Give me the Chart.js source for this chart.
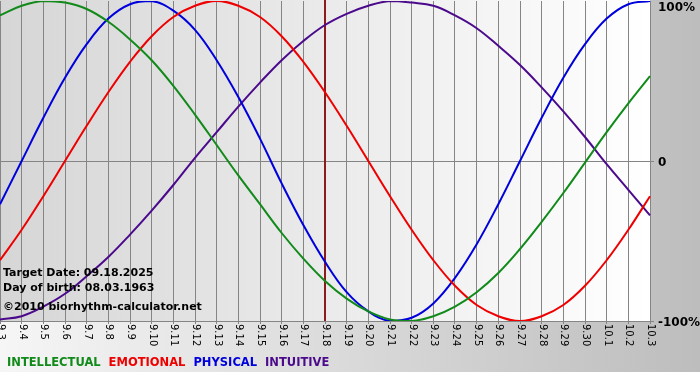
<!DOCTYPE html>
<html>
<head>
<meta charset="utf-8">
<script src="https://cdn.jsdelivr.net/npm/chart.js@4/dist/chart.umd.min.js"></script>
<style>
  html, body { margin: 0; padding: 0; background: #fff; }
  canvas { display: block; }
</style>
</head>
<body>
<canvas id="chart" width="700" height="380"></canvas>
<script>
// days shown on the x axis (month.day)
const days = ['9.3', '9.4', '9.5', '9.6', '9.7', '9.8', '9.9', '9.10', '9.11', '9.12',
  '9.13', '9.14', '9.15', '9.16', '9.17', '9.18', '9.19', '9.20', '9.21', '9.22',
  '9.23', '9.24', '9.25', '9.26', '9.27', '9.28', '9.29', '9.30', '10.1', '10.2', '10.3'];
const targetDay = '9.18';

// values in percent
const intellectual = [91, 97, 100, 99, 95, 87, 76, 63, 47, 29, 10, -9, -27, -45, -61, -75,
  -86, -94, -99, -100, -97, -91, -82, -70, -55, -38, -20, -1, 18, 36, 53];
const emotional = [-62, -43, -22, 0, 22, 43, 62, 78, 90, 97, 100, 97, 90, 78, 62, 43,
  22, 0, -22, -43, -62, -78, -90, -97, -100, -97, -90, -78, -62, -43, -22];
const physical = [-27, 0, 27, 52, 73, 89, 98, 100, 94, 82, 63, 40, 14, -14, -40, -63,
  -82, -94, -100, -98, -89, -73, -52, -27, 0, 27, 52, 73, 89, 98, 100];
const intuitive = [-99, -97, -91, -83, -72, -60, -46, -31, -15, 2, 18, 34, 49, 63, 75, 85,
  92, 97, 100, 99, 97, 91, 83, 72, 60, 46, 31, 15, -2, -18, -34];

const yTicks = [100, 0, -100];
const infoLines = ['Target Date: 09.18.2025', 'Day of birth: 08.03.1963', '\u00a92010 biorhythm-calculator.net'];

const colors = {
  intellectual: '#118a1a',
  emotional: '#ee0000',
  physical: '#0000dd',
  intuitive: '#4b0a8c',
};

const decor = {
  id: 'decor',
  beforeDraw(chart) {
    const { ctx, chartArea: a, width, height } = chart;
    ctx.save();
    ctx.fillStyle = '#fff';
    ctx.fillRect(0, 0, width, height);
    let g = ctx.createLinearGradient(0, 0, width, 0);
    g.addColorStop(0, '#f6f6f6');
    g.addColorStop(1, '#bdbdbd');
    ctx.fillStyle = g;
    ctx.fillRect(0, 0, width, 372);
    g = ctx.createLinearGradient(a.left, 0, a.right, 0);
    g.addColorStop(0, '#d6d6d6');
    g.addColorStop(1, '#ffffff');
    ctx.fillStyle = g;
    ctx.fillRect(a.left, 0, a.right - a.left, a.bottom);
    ctx.restore();
  },
  beforeDatasetsDraw(chart) {
    const { ctx, chartArea: a, scales } = chart;
    const x = Math.round(scales.x.getPixelForValue(days.indexOf(targetDay)));
    ctx.save();
    ctx.strokeStyle = '#8b1c1c';
    ctx.lineWidth = 2;
    ctx.beginPath();
    ctx.moveTo(x, 0);
    ctx.lineTo(x, a.bottom);
    ctx.stroke();
    ctx.restore();
  },
  afterDraw(chart) {
    const { ctx, chartArea: a, scales } = chart;
    ctx.save();
    ctx.fillStyle = '#000';

    // rotated day labels
    ctx.font = '10px "DejaVu Sans"';
    ctx.textAlign = 'left';
    ctx.textBaseline = 'middle';
    days.forEach((d, i) => {
      const x = scales.x.getPixelForValue(i);
      ctx.save();
      ctx.translate(x + 0.5, a.bottom + 3);
      ctx.rotate(Math.PI / 2);
      ctx.fillText(d, 0, 0);
      ctx.restore();
    });

    // percent labels
    ctx.font = 'bold 12px "DejaVu Sans"';
    ctx.textBaseline = 'alphabetic';
    yTicks.forEach(v => {
      const y = Math.max(scales.y.getPixelForValue(v) + 5, 11);
      ctx.fillText(v === 0 ? '0' : v + '%', a.right + 8, y);
    });

    // info text
    ctx.font = 'bold 11px "DejaVu Sans"';
    ctx.fillText(infoLines[0], 3, 276);
    ctx.fillText(infoLines[1], 3, 291);
    ctx.fillText(infoLines[2], 3, 310);

    // legend
    ctx.font = 'bold 11.5px "DejaVu Sans"';
    let lx = 7;
    chart.data.datasets.forEach(ds => {
      ctx.fillStyle = ds.borderColor;
      ctx.fillText(ds.label, lx, 366);
      lx += ctx.measureText(ds.label).width + 8;
    });
    ctx.restore();
  },
};

new Chart(document.getElementById('chart'), {
  type: 'line',
  data: {
    labels: days,
    datasets: [
      { label: 'INTELLECTUAL', data: intellectual, borderColor: colors.intellectual },
      { label: 'EMOTIONAL', data: emotional, borderColor: colors.emotional },
      { label: 'PHYSICAL', data: physical, borderColor: colors.physical },
      { label: 'INTUITIVE', data: intuitive, borderColor: colors.intuitive },
    ],
  },
  options: {
    responsive: false,
    animation: false,
    devicePixelRatio: 1,
    layout: { padding: { top: 1, left: 0, right: 0, bottom: 0 } },
    elements: {
      point: { radius: 0 },
      line: { borderWidth: 2, tension: 0.4, fill: false },
    },
    plugins: {
      legend: { display: false },
      tooltip: { enabled: false },
    },
    scales: {
      x: {
        type: 'category',
        offset: false,
        grid: { color: '#858585', lineWidth: 1, tickLength: 3 },
        border: { display: false },
        ticks: { display: false, autoSkip: false },
        afterFit(s) { s.height = 59; },
      },
      y: {
        position: 'right',
        min: -100,
        max: 100,
        grid: {
          color: c => (c.tick && c.tick.value === 100 ? 'rgba(0,0,0,0)' : '#858585'),
          lineWidth: 1,
          tickLength: 4,
        },
        border: { display: false },
        ticks: { display: false, stepSize: 100 },
        afterFit(s) { s.width = 50; },
      },
    },
  },
  plugins: [decor],
});
</script>
</body>
</html>
